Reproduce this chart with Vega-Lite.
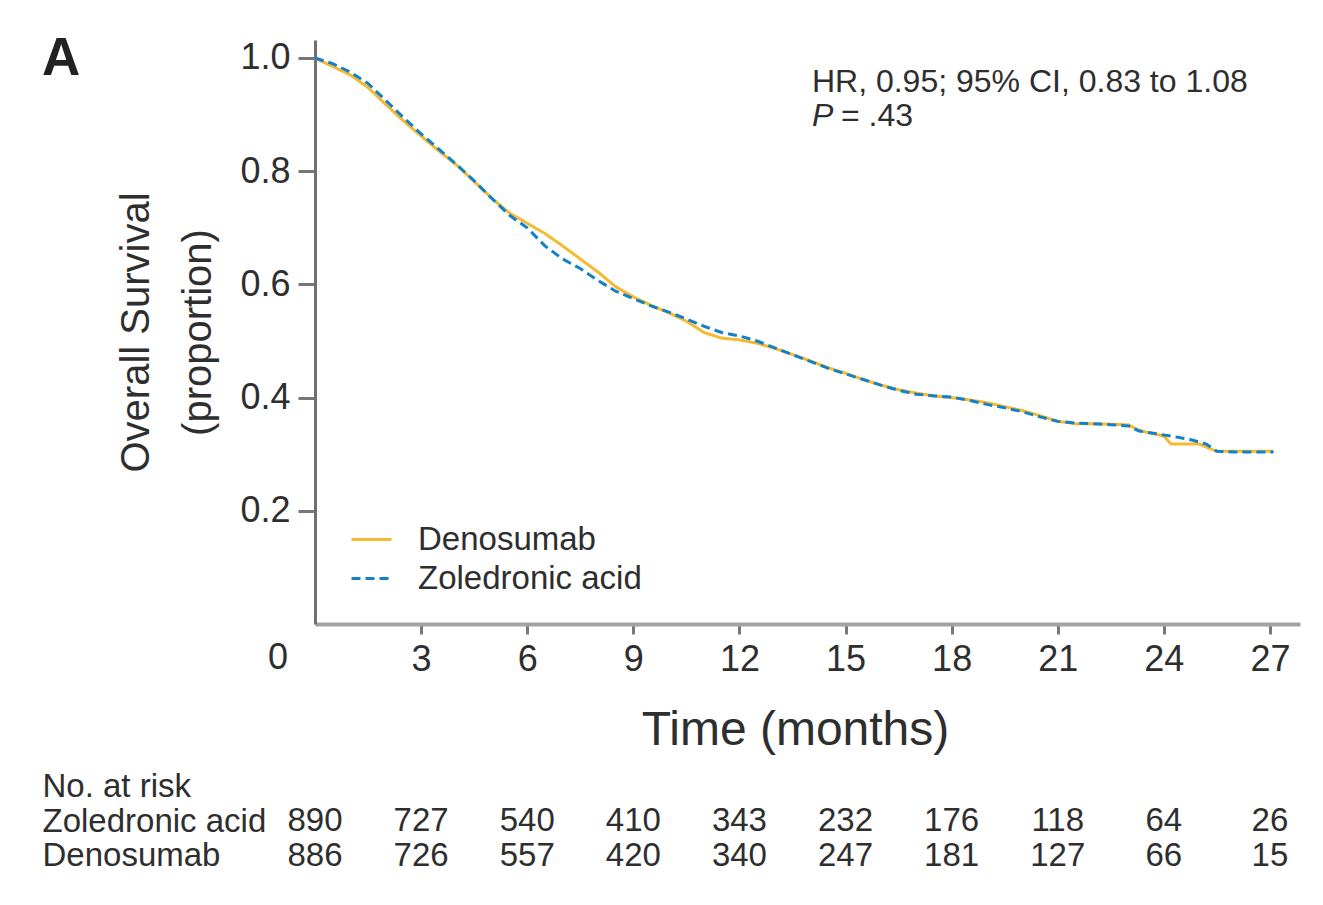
{
  "$schema": "https://vega.github.io/schema/vega-lite/v6.json",
  "background": "white",
  "padding": {"left": 42, "top": 33, "right": 10, "bottom": 10},
  "bounds": "flush",
  "spacing": 145,
  "config": {"font": "Liberation Sans", "view": {"stroke": null}},
  "datasets": {
    "km": [
      {"arm": "Denosumab", "time": 0, "survival": 1.0},
      {"arm": "Denosumab", "time": 0.5, "survival": 0.985},
      {"arm": "Denosumab", "time": 1.0, "survival": 0.97},
      {"arm": "Denosumab", "time": 1.5, "survival": 0.948},
      {"arm": "Denosumab", "time": 2.0, "survival": 0.918},
      {"arm": "Denosumab", "time": 2.5, "survival": 0.889},
      {"arm": "Denosumab", "time": 3.0, "survival": 0.862},
      {"arm": "Denosumab", "time": 3.5, "survival": 0.836},
      {"arm": "Denosumab", "time": 4.0, "survival": 0.811},
      {"arm": "Denosumab", "time": 4.5, "survival": 0.782},
      {"arm": "Denosumab", "time": 5.0, "survival": 0.752},
      {"arm": "Denosumab", "time": 5.5, "survival": 0.726},
      {"arm": "Denosumab", "time": 6.0, "survival": 0.708},
      {"arm": "Denosumab", "time": 6.5, "survival": 0.69},
      {"arm": "Denosumab", "time": 7.0, "survival": 0.668},
      {"arm": "Denosumab", "time": 7.5, "survival": 0.645},
      {"arm": "Denosumab", "time": 8.0, "survival": 0.622},
      {"arm": "Denosumab", "time": 8.5, "survival": 0.596},
      {"arm": "Denosumab", "time": 9.0, "survival": 0.578},
      {"arm": "Denosumab", "time": 9.5, "survival": 0.563},
      {"arm": "Denosumab", "time": 10.0, "survival": 0.55},
      {"arm": "Denosumab", "time": 10.5, "survival": 0.535},
      {"arm": "Denosumab", "time": 11.0, "survival": 0.515},
      {"arm": "Denosumab", "time": 11.5, "survival": 0.505},
      {"arm": "Denosumab", "time": 12.0, "survival": 0.502},
      {"arm": "Denosumab", "time": 12.5, "survival": 0.496},
      {"arm": "Denosumab", "time": 13.0, "survival": 0.487},
      {"arm": "Denosumab", "time": 13.5, "survival": 0.476},
      {"arm": "Denosumab", "time": 14.0, "survival": 0.465},
      {"arm": "Denosumab", "time": 14.5, "survival": 0.453},
      {"arm": "Denosumab", "time": 15.0, "survival": 0.443},
      {"arm": "Denosumab", "time": 15.5, "survival": 0.432},
      {"arm": "Denosumab", "time": 16.0, "survival": 0.422},
      {"arm": "Denosumab", "time": 16.5, "survival": 0.414},
      {"arm": "Denosumab", "time": 17.0, "survival": 0.408},
      {"arm": "Denosumab", "time": 17.5, "survival": 0.403},
      {"arm": "Denosumab", "time": 18.0, "survival": 0.4},
      {"arm": "Denosumab", "time": 18.5, "survival": 0.396},
      {"arm": "Denosumab", "time": 19.0, "survival": 0.391},
      {"arm": "Denosumab", "time": 19.5, "survival": 0.384},
      {"arm": "Denosumab", "time": 20.0, "survival": 0.377},
      {"arm": "Denosumab", "time": 20.5, "survival": 0.368},
      {"arm": "Denosumab", "time": 21.0, "survival": 0.358},
      {"arm": "Denosumab", "time": 21.5, "survival": 0.354},
      {"arm": "Denosumab", "time": 22.0, "survival": 0.354},
      {"arm": "Denosumab", "time": 22.5, "survival": 0.353},
      {"arm": "Denosumab", "time": 23.0, "survival": 0.352},
      {"arm": "Denosumab", "time": 23.3, "survival": 0.342},
      {"arm": "Denosumab", "time": 24.0, "survival": 0.332},
      {"arm": "Denosumab", "time": 24.2, "survival": 0.318},
      {"arm": "Denosumab", "time": 25.0, "survival": 0.318},
      {"arm": "Denosumab", "time": 25.5, "survival": 0.305},
      {"arm": "Denosumab", "time": 27.1, "survival": 0.305},
      {"arm": "Zoledronic acid", "time": 0, "survival": 1.0},
      {"arm": "Zoledronic acid", "time": 0.5, "survival": 0.99},
      {"arm": "Zoledronic acid", "time": 1.0, "survival": 0.975},
      {"arm": "Zoledronic acid", "time": 1.5, "survival": 0.955},
      {"arm": "Zoledronic acid", "time": 2.0, "survival": 0.925},
      {"arm": "Zoledronic acid", "time": 2.5, "survival": 0.895},
      {"arm": "Zoledronic acid", "time": 3.0, "survival": 0.866},
      {"arm": "Zoledronic acid", "time": 3.5, "survival": 0.839},
      {"arm": "Zoledronic acid", "time": 4.0, "survival": 0.812},
      {"arm": "Zoledronic acid", "time": 4.5, "survival": 0.783},
      {"arm": "Zoledronic acid", "time": 5.0, "survival": 0.752},
      {"arm": "Zoledronic acid", "time": 5.5, "survival": 0.722},
      {"arm": "Zoledronic acid", "time": 6.0, "survival": 0.7},
      {"arm": "Zoledronic acid", "time": 6.5, "survival": 0.668},
      {"arm": "Zoledronic acid", "time": 7.0, "survival": 0.645},
      {"arm": "Zoledronic acid", "time": 7.5, "survival": 0.628},
      {"arm": "Zoledronic acid", "time": 8.0, "survival": 0.607},
      {"arm": "Zoledronic acid", "time": 8.5, "survival": 0.588},
      {"arm": "Zoledronic acid", "time": 9.0, "survival": 0.575},
      {"arm": "Zoledronic acid", "time": 9.5, "survival": 0.562},
      {"arm": "Zoledronic acid", "time": 10.0, "survival": 0.551},
      {"arm": "Zoledronic acid", "time": 10.5, "survival": 0.539},
      {"arm": "Zoledronic acid", "time": 11.0, "survival": 0.526},
      {"arm": "Zoledronic acid", "time": 11.5, "survival": 0.515},
      {"arm": "Zoledronic acid", "time": 12.0, "survival": 0.509},
      {"arm": "Zoledronic acid", "time": 12.5, "survival": 0.5},
      {"arm": "Zoledronic acid", "time": 13.0, "survival": 0.488},
      {"arm": "Zoledronic acid", "time": 13.5, "survival": 0.476},
      {"arm": "Zoledronic acid", "time": 14.0, "survival": 0.464},
      {"arm": "Zoledronic acid", "time": 14.5, "survival": 0.452},
      {"arm": "Zoledronic acid", "time": 15.0, "survival": 0.442},
      {"arm": "Zoledronic acid", "time": 15.5, "survival": 0.432},
      {"arm": "Zoledronic acid", "time": 16.0, "survival": 0.422},
      {"arm": "Zoledronic acid", "time": 16.5, "survival": 0.413},
      {"arm": "Zoledronic acid", "time": 17.0, "survival": 0.406},
      {"arm": "Zoledronic acid", "time": 17.5, "survival": 0.403},
      {"arm": "Zoledronic acid", "time": 18.0, "survival": 0.401},
      {"arm": "Zoledronic acid", "time": 18.5, "survival": 0.395},
      {"arm": "Zoledronic acid", "time": 19.0, "survival": 0.388},
      {"arm": "Zoledronic acid", "time": 19.5, "survival": 0.382},
      {"arm": "Zoledronic acid", "time": 20.0, "survival": 0.375},
      {"arm": "Zoledronic acid", "time": 20.5, "survival": 0.366},
      {"arm": "Zoledronic acid", "time": 21.0, "survival": 0.358},
      {"arm": "Zoledronic acid", "time": 21.5, "survival": 0.355},
      {"arm": "Zoledronic acid", "time": 22.0, "survival": 0.354},
      {"arm": "Zoledronic acid", "time": 22.5, "survival": 0.352},
      {"arm": "Zoledronic acid", "time": 23.0, "survival": 0.35},
      {"arm": "Zoledronic acid", "time": 23.3, "survival": 0.341},
      {"arm": "Zoledronic acid", "time": 23.8, "survival": 0.336},
      {"arm": "Zoledronic acid", "time": 24.3, "survival": 0.331},
      {"arm": "Zoledronic acid", "time": 24.8, "survival": 0.325},
      {"arm": "Zoledronic acid", "time": 25.2, "survival": 0.318},
      {"arm": "Zoledronic acid", "time": 25.5, "survival": 0.305},
      {"arm": "Zoledronic acid", "time": 26.0, "survival": 0.304},
      {"arm": "Zoledronic acid", "time": 27.1, "survival": 0.304}
    ],
    "risk": [
      {"arm": "Zoledronic acid", "time": 0, "n": 890},
      {"arm": "Zoledronic acid", "time": 3, "n": 727},
      {"arm": "Zoledronic acid", "time": 6, "n": 540},
      {"arm": "Zoledronic acid", "time": 9, "n": 410},
      {"arm": "Zoledronic acid", "time": 12, "n": 343},
      {"arm": "Zoledronic acid", "time": 15, "n": 232},
      {"arm": "Zoledronic acid", "time": 18, "n": 176},
      {"arm": "Zoledronic acid", "time": 21, "n": 118},
      {"arm": "Zoledronic acid", "time": 24, "n": 64},
      {"arm": "Zoledronic acid", "time": 27, "n": 26},
      {"arm": "Denosumab", "time": 0, "n": 886},
      {"arm": "Denosumab", "time": 3, "n": 726},
      {"arm": "Denosumab", "time": 6, "n": 557},
      {"arm": "Denosumab", "time": 9, "n": 420},
      {"arm": "Denosumab", "time": 12, "n": 340},
      {"arm": "Denosumab", "time": 15, "n": 247},
      {"arm": "Denosumab", "time": 18, "n": 181},
      {"arm": "Denosumab", "time": 21, "n": 127},
      {"arm": "Denosumab", "time": 24, "n": 66},
      {"arm": "Denosumab", "time": 27, "n": 15}
    ]
  },
  "vconcat": [
    {
      "width": 985,
      "height": 584,
      "layer": [
        {
          "data": {"name": "km"},
          "mark": {"type": "line", "strokeWidth": 3},
          "encoding": {
            "x": {
              "field": "time", "type": "quantitative",
              "scale": {"domain": [0, 27.85], "nice": false, "zero": false},
              "axis": {
                "values": [3, 6, 9, 12, 15, 18, 21, 24, 27],
                "grid": false,
                "labelFontSize": 36, "labelColor": "#2e2e2e", "labelPadding": 8,
                "tickSize": 10, "tickWidth": 3, "tickColor": "#777",
                "domainColor": "#a3a3a3", "domainWidth": 4,
                "title": "Time (months)", "titleFontSize": 48, "titleFontWeight": "normal",
                "titleColor": "#2e2e2e", "titleX": 480, "titleY": 120,
                "titleBaseline": "alphabetic", "titleAlign": "center"
              }
            },
            "y": {
              "field": "survival", "type": "quantitative",
              "scale": {"domain": [0, 1.0318], "nice": false},
              "axis": {
                "values": [0.2, 0.4, 0.6, 0.8, 1.0],
                "format": ".1f",
                "grid": false,
                "labelFontSize": 36, "labelColor": "#2e2e2e", "labelPadding": 8,
                "tickSize": 17, "tickWidth": 3, "tickColor": "#777",
                "domainColor": "#707070", "domainWidth": 3,
                "title": ["Overall Survival", "(proportion)"],
                "titleFontSize": 40, "titleFontWeight": "normal",
                "titleColor": "#2e2e2e", "titleLineHeight": 62,
                "titleAngle": -90, "titleX": -167, "titleY": 292,
                "titleBaseline": "alphabetic", "titleAlign": "center"
              }
            },
            "color": {
              "field": "arm", "type": "nominal",
              "scale": {"domain": ["Denosumab", "Zoledronic acid"], "range": ["#f5b932", "#1380c8"]},
              "legend": {
                "title": null, "orient": "none", "legendX": 35, "legendY": 478,
                "symbolType": "stroke", "symbolSize": 1600, "symbolStrokeWidth": 3,
                "labelFontSize": 33, "labelColor": "#2e2e2e", "labelOffset": 25, "labelLimit": 0,
                "rowPadding": 0, "padding": 0
              }
            },
            "strokeDash": {
              "field": "arm", "type": "nominal",
              "scale": {"domain": ["Denosumab", "Zoledronic acid"], "range": [[1, 0], [9, 5]]},
              "legend": {
                "title": null, "orient": "none", "legendX": 35, "legendY": 478,
                "symbolType": "stroke", "symbolSize": 1600, "symbolStrokeWidth": 3,
                "labelFontSize": 33, "labelColor": "#2e2e2e", "labelOffset": 25, "labelLimit": 0,
                "rowPadding": 0, "padding": 0
              }
            },
            "order": {"field": "time"}
          }
        },
        {
          "data": {"values": [{}]},
          "mark": {"type": "text", "text": "A", "fontSize": 53, "fontWeight": "bold", "align": "left", "baseline": "alphabetic", "dx": -273, "dy": 35, "color": "#222"},
          "encoding": {"x": {"datum": 0}, "y": {"datum": 1.0318}}
        },
        {
          "data": {"values": [{}]},
          "mark": {"type": "text", "text": "0", "fontSize": 36, "align": "center", "baseline": "middle", "dx": -37, "dy": 34, "color": "#2e2e2e"},
          "encoding": {"x": {"datum": 0}, "y": {"datum": 0}}
        },
        {
          "data": {"values": [{}]},
          "mark": {"type": "text", "text": "HR, 0.95; 95% CI, 0.83 to 1.08", "fontSize": 32, "align": "left", "baseline": "alphabetic", "color": "#2e2e2e"},
          "encoding": {"x": {"datum": 14.05}, "y": {"datum": 0.94}}
        },
        {
          "data": {"values": [{}]},
          "mark": {"type": "text", "text": "P", "fontSize": 32, "fontStyle": "italic", "align": "left", "baseline": "alphabetic", "color": "#2e2e2e"},
          "encoding": {"x": {"datum": 14.05}, "y": {"datum": 0.88}}
        },
        {
          "data": {"values": [{}]},
          "mark": {"type": "text", "text": "= .43", "fontSize": 32, "align": "left", "baseline": "alphabetic", "dx": 29, "color": "#2e2e2e"},
          "encoding": {"x": {"datum": 14.05}, "y": {"datum": 0.88}}
        }
      ]
    },
    {
      "width": 985,
      "height": 104,
      "data": {"name": "risk"},
      "mark": {"type": "text", "fontSize": 33, "color": "#2e2e2e", "baseline": "middle"},
      "encoding": {
        "x": {"field": "time", "type": "quantitative", "scale": {"domain": [0, 27.85], "nice": false, "zero": false}, "axis": null},
        "y": {
          "field": "arm", "type": "nominal",
          "scale": {"domain": ["No. at risk", "Zoledronic acid", "Denosumab"]},
          "axis": {"title": null, "domain": false, "ticks": false, "labelAlign": "left", "labelPadding": 273, "labelFontSize": 33, "labelColor": "#2e2e2e", "labelLimit": 0}
        },
        "text": {"field": "n", "type": "quantitative"}
      }
    }
  ]
}
